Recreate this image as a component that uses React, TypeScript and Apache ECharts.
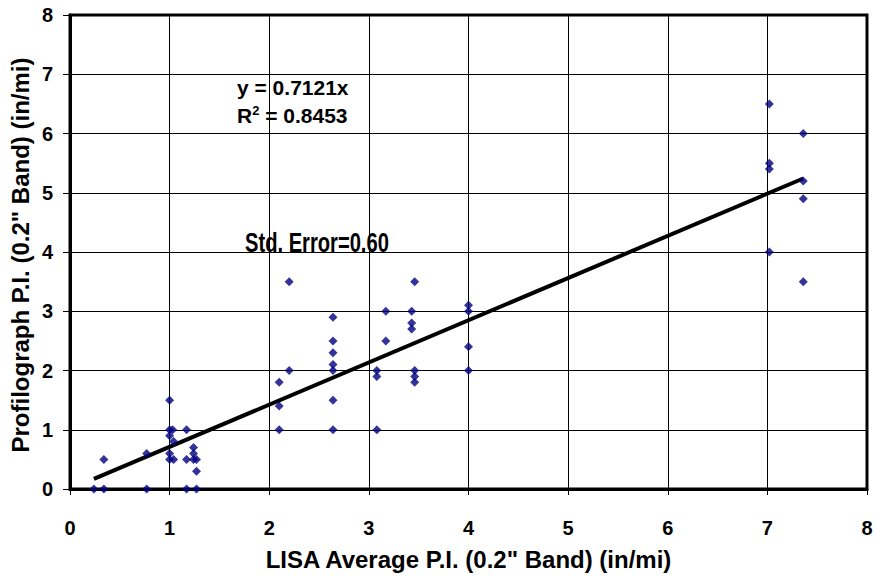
import React, { useEffect, useRef } from "react";
import * as echarts from "echarts";

const xTicks = [0, 1, 2, 3, 4, 5, 6, 7, 8];
const yTicks = [0, 1, 2, 3, 4, 5, 6, 7, 8];

const lisaX = [
  0.24, 0.34, 0.34, 0.77, 0.77, 1.0, 1.0, 1.03, 1.0, 1.04, 1.0, 1.0, 1.04, 1.17, 1.17, 1.17,
  1.24, 1.24, 1.24, 1.27, 1.27, 1.27,
  2.1, 2.1, 2.1, 2.2, 2.2,
  2.64, 2.64, 2.64, 2.64, 2.64, 2.64, 2.64,
  3.08, 3.08, 3.08, 3.17, 3.17,
  3.46, 3.43, 3.43, 3.43, 3.46, 3.46, 3.46,
  4.0, 4.0, 4.0, 4.0,
  7.02, 7.02, 7.02, 7.02, 7.36, 7.36, 7.36, 7.36,
];
const profY = [
  0, 0, 0.5, 0, 0.6, 1.5, 1.0, 1.0, 0.9, 0.8, 0.6, 0.5, 0.5, 1.0, 0.5, 0,
  0.7, 0.6, 0.5, 0.5, 0.3, 0,
  1.8, 1.4, 1.0, 3.5, 2.0,
  2.9, 2.5, 2.3, 2.1, 2.0, 1.5, 1.0,
  2.0, 1.9, 1.0, 3.0, 2.5,
  3.5, 3.0, 2.8, 2.7, 2.0, 1.9, 1.8,
  3.1, 3.0, 2.4, 2.0,
  6.5, 5.5, 5.4, 4.0, 6.0, 5.2, 4.9, 3.5,
];
const slope = 0.7121;
const r2 = "0.8453";
const stdError = "0.60";
const xTitle = "LISA Average P.I. (0.2\" Band) (in/mi)";
const yTitle = "Profilograph P.I. (0.2\" Band) (in/mi)";

export default function App() {
  const ref = useRef<HTMLDivElement>(null);
  useEffect(() => {
    document.body.style.margin = "0";
    const chart = echarts.init(ref.current!, null, { renderer: "svg" });
    const points = lisaX.map((x, i) => [x, profY[i]]);
    const xMin = Math.min(...lisaX);
    const xMax = Math.max(...lisaX);
    const font = "'Liberation Sans', Arial, sans-serif";
    chart.setOption({
      animation: false,
      backgroundColor: "#ffffff",
      grid: {
        left: 70, right: 9, top: 15, bottom: 90,
        outerBoundsMode: "none",
        containLabel: false,
        show: true, borderColor: "#000", borderWidth: 3, backgroundColor: "transparent",
      },
      xAxis: {
        type: "value",
        min: xTicks[0],
        max: xTicks[xTicks.length - 1],
        interval: 1,
        name: xTitle,
        nameLocation: "middle",
        nameGap: 58,
        nameTextStyle: { fontFamily: font, fontWeight: 700, fontSize: 24, color: "#000" },
        axisLine: { show: true, lineStyle: { color: "#000", width: 3 } },
        axisTick: { show: true, length: 6, lineStyle: { color: "#000", width: 1 } },
        axisLabel: { fontFamily: font, fontWeight: 700, fontSize: 20, color: "#000", margin: 29 },
        splitLine: { show: true, lineStyle: { color: "#000", width: 1 } },
      },
      yAxis: {
        type: "value",
        min: yTicks[0],
        max: yTicks[yTicks.length - 1],
        interval: 1,
        axisLine: { show: true, lineStyle: { color: "#000", width: 3 } },
        axisTick: { show: true, length: 7, lineStyle: { color: "#000", width: 1 } },
        axisLabel: { fontFamily: font, fontWeight: 700, fontSize: 20, color: "#000", margin: 17 },
        splitLine: { show: true, lineStyle: { color: "#000", width: 1 } },
      },
      series: [
        {
          type: "line",
          data: [[xMin, slope * xMin], [xMax, slope * xMax]],
          symbol: "none",
          lineStyle: { color: "#000", width: 4 },
          z: 2,
        },
        {
          type: "scatter",
          data: points,
          symbol: "diamond",
          symbolSize: 9,
          itemStyle: { color: "#000080" },
          z: 3,
        },
      ],
      graphic: [
        {
          type: "text",
          x: 20,
          y: 255,
          rotation: Math.PI / 2,
          style: {
            text: yTitle, fontFamily: font, fontWeight: 700, fontSize: 24, fill: "#000",
            align: "center", verticalAlign: "middle",
          },
        },
        {
          type: "text",
          left: 237,
          top: 77,
          style: { text: `y = ${slope}x`, fontFamily: font, fontWeight: 700, fontSize: 21, fill: "#000" },
        },
        {
          type: "text",
          left: 237,
          top: 104,
          style: {
            text: `{b|R}{s|2}{b| = ${r2}}`,
            rich: {
              b: { fontFamily: font, fontWeight: 700, fontSize: 21, color: "#000" },
              s: { fontFamily: font, fontWeight: 700, fontSize: 13, color: "#000", verticalAlign: "top", padding: [0, 0, 10, 0] },
            },
          },
        },
        {
          type: "text",
          x: 245,
          y: 228,
          scaleX: 0.72,
          style: { text: `Std. Error=${stdError}`, fontFamily: font, fontWeight: 700, fontSize: 28, fill: "#000" },
        },
      ],
    });
    return () => chart.dispose();
  }, []);
  return <div ref={ref} style={{ width: 876, height: 579 }} />;
}
